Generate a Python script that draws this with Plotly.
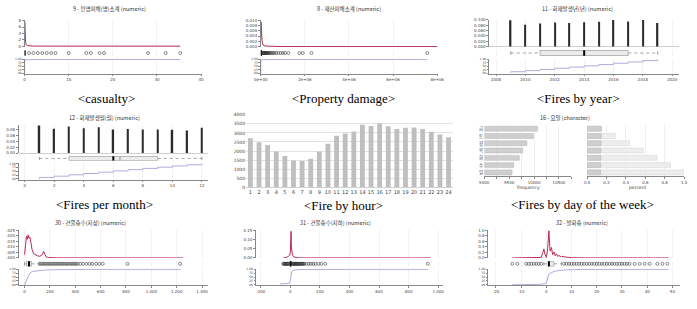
import numpy as np
import plotly.graph_objects as go

# ------------------------------------------------------------------ data
titles = ["9 - 인명피해(명)소계 (numeric)", "8 - 재산피해소계 (numeric)", "11 - 화재발생년(년) (numeric)",
          "12 - 화재발생월(월) (numeric)", "16 - 요일 (character)",
          "30 - 건물층수(지상) (numeric)", "31 - 건물층수(지하) (numeric)", "32 - 발화층 (numeric)"]
captions = ["<casualty>", "<Property damage>", "<Fires by year>",
            "<Fires per month>", "<Fire by hour>", "<Fires by day of the week>"]

# casualty
cas_dens_x = [0, 0.02, 0.1, 0.2, 0.35, 0.6, 1, 2, 5, 35.3]
cas_dens_y = [1.2, 7.7, 5.0, 1.5, 0.4, 0.15, 0.08, 0.03, 0.01, 0]
cas_box = [0, 0, 0, 0, 0]                      # lower whisker, q1, median, q3, upper whisker
cas_out = [1, 2, 3, 4, 5, 6, 7, 10, 14, 15, 17, 18, 28, 32, 35.3]
cas_ecdf_x = [0, 0, 1, 2, 5, 35.3]
cas_ecdf_y = [0, 0.965, 0.985, 0.992, 0.998, 1.0]

# property damage
prop_dens_x = [0, 10000, 30000, 60000, 100000, 200000, 500000, 1000000, 8050000]
prop_dens_y = [0.003, 0.0093, 0.006, 0.002, 0.0006, 0.0002, 0.00005, 0.00001, 0]
prop_box = [0, 0, 10000, 30000, 80000]
prop_out = [90000, 110000, 130000, 150000, 170000, 190000, 210000, 240000, 270000, 300000,
            330000, 360000, 400000, 450000, 500000, 560000, 620000, 700000, 800000, 900000,
            1000000, 1100000, 1250000, 1750000, 1900000, 2300000, 7550000]
prop_ecdf_x = [0, 0, 50000, 200000, 1000000, 7550000]
prop_ecdf_y = [0, 0.9, 0.97, 0.99, 0.998, 1.0]

# fires by year
years = [2009, 2010, 2011, 2012, 2013, 2014, 2015, 2016, 2017, 2018, 2019]
year_share = [0.099, 0.082, 0.087, 0.090, 0.088, 0.091, 0.093, 0.101, 0.094, 0.100, 0.088]
year_box = [2009, 2011, 2014, 2017, 2019]

# fires per month
months = [1, 2, 3, 4, 5, 6, 7, 8, 9, 10, 11, 12]
month_share = [0.0935, 0.0822, 0.090, 0.0845, 0.088, 0.080, 0.082, 0.080, 0.080, 0.079, 0.0766, 0.0856]
month_box = [1, 3, 6, 9, 12]
month_mean = 6.45

# fire by hour
hours = list(range(1, 25))
hour_count = [2700, 2480, 2330, 1980, 1730, 1480, 1450, 1570, 1980, 2400, 2850, 2970,
              3080, 3450, 3380, 3530, 3370, 3220, 3280, 3300, 3220, 3060, 2920, 2760]

# fires by day of the week
day_labels = ["금", "토", "월", "목", "화", "수", "일"]
day_freq = [10072, 9987, 9855, 9770, 9704, 9592, 9559]

# building floors above ground
fa_dens_x = [0, 8, 15, 22, 28, 35, 42, 50, 58, 70, 85, 100, 120, 140, 150, 158, 170, 190, 250, 1250]
fa_dens_y = [0.003, 0.012, 0.020, 0.017, 0.021, 0.018, 0.019, 0.014, 0.008, 0.004, 0.003, 0.002,
             0.0015, 0.003, 0.006, 0.004, 0.001, 0.0004, 0.0001, 0]
fa_box = [0, 15, 35, 55, 115]
fa_out = [120, 133, 146, 159, 172, 185, 198, 211, 224, 237, 250, 263, 276, 289, 302, 315, 328,
          341, 354, 367, 380, 393, 406, 419, 440, 460, 486, 512, 533, 564, 590, 617, 813, 1227]
fa_ecdf_x = [0, 10, 20, 30, 40, 60, 100, 150, 200, 300, 500, 1230]
fa_ecdf_y = [0, 0.2, 0.45, 0.62, 0.75, 0.86, 0.92, 0.95, 0.97, 0.99, 0.998, 1.0]

# building floors below ground
fb_dens_x = [-48, -30, -15, -5, 0, 3, 5, 7, 10, 14, 20, 30, 45, 65, 950]
fb_dens_y = [0, 0.002, 0.008, 0.015, 0.03, 0.07, 0.145, 0.06, 0.025, 0.015, 0.008, 0.004, 0.001, 0.0003, 0]
fb_box = [-10, -1, 2, 5, 14]
fb_out = [-48, -44, -40, -36, -32, -28, -24, -20, -16, -13, 16, 19, 22, 25, 28, 32, 36, 40, 44, 48,
          52, 56, 60, 65, 70, 75, 80, 85, 90, 95, 110, 125, 140, 155, 170, 190, 210, 236, 930]
fb_ecdf_x = [-70, -15, -5, 0, 3, 6, 10, 20, 50, 100, 930]
fb_ecdf_y = [0.06, 0.07, 0.1, 0.3, 0.6, 0.8, 0.88, 0.94, 0.98, 0.995, 1.0]

# fire floor
ff_dens_x = [-13.5, -5, -2, -1.4, -1, -0.6, 0, 0.5, 1, 1.5, 2, 2.5, 3, 3.5, 4, 4.5, 5, 5.5, 6, 7, 8, 10, 15, 48.5]
ff_dens_y = [0, 0.002, 0.02, 0.2, 0.33, 0.15, 0.02, 0.3, 1.0, 0.25, 0.38, 0.12, 0.22, 0.08, 0.15, 0.05,
             0.1, 0.04, 0.06, 0.04, 0.03, 0.01, 0.002, 0]
ff_box = [-1, 1, 1, 3, 6]
ff_out = [-13.5, -11.5, -8, -7, -6, -5, -4, -3, -2, 7, 8, 9, 10, 11, 12, 13, 14, 15, 16, 17, 18, 19,
          20, 21, 22, 23, 24, 25, 26, 27, 28, 29, 30, 31, 32, 33, 35, 37, 39, 41, 44, 46, 48]
ff_ecdf_x = [-13.5, -5, -2, -1, 0, 1, 2, 3, 5, 8, 15, 48.5]
ff_ecdf_y = [0, 0.01, 0.03, 0.08, 0.1, 0.7, 0.8, 0.86, 0.93, 0.97, 0.995, 1.0]

# ------------------------------------------------------------------ helpers
W, H = 697, 309
def fx(p): return p / W
def fy(p): return 1 - p / H
def xdom(a, b): return [fx(a), fx(b)]
def ydom(top, bottom): return [fy(bottom), fy(top)]

TICKFONT = dict(size=4, color='#444', family='DejaVu Sans')
SMALLFONT = dict(size=3, color='#444', family='DejaVu Sans')
AXBASE = dict(showgrid=False, zeroline=False, showline=True, linecolor='#888', linewidth=0.6,
              ticks='outside', ticklen=2, tickwidth=0.6, tickcolor='#888', tickfont=TICKFONT,
              fixedrange=True)
DENS_C = '#bb2a52'
ECDF_C = '#a4a4de'
SPIKE_C = '#2b2b2b'

fig = go.Figure()
layout = {}
annots = []
cnt = {'x': 0, 'y': 0}

def new_axis(k):
    cnt[k] += 1
    n = cnt[k]
    return (k if n == 1 else f'{k}{n}'), (f'{k}axis' if n == 1 else f'{k}axis{n}')

def add_text(txt, cx, cy, size, family, color='#222'):
    annots.append(dict(text=txt, x=fx(cx), y=fy(cy), xref='paper', yref='paper',
                       xanchor='center', yanchor='middle', showarrow=False,
                       font=dict(size=size, family=family, color=color)))

def line(xr, yr, x, y, color, width, dash='solid', shape='linear'):
    fig.add_trace(go.Scatter(x=x, y=y, mode='lines', xaxis=xr, yaxis=yr, hoverinfo='skip',
                             line=dict(color=color, width=width, dash=dash, shape=shape)))

def numeric_panel(p):
    xr, xn = new_axis('x')
    ydr, ydn = new_axis('y')
    ybr, ybn = new_axis('y')
    yer, yen = new_axis('y')
    r = p['rows']
    layout[xn] = dict(AXBASE, domain=xdom(*p['xdom']), range=p['xrange'], anchor=yer,
                      tickmode='array', tickvals=p['xtv'], ticktext=p['xtt'],
                      showgrid=True, gridcolor='#f2f2f2', gridwidth=0.5)
    layout[ydn] = dict(AXBASE, domain=ydom(r[0], r[1]), range=p['drange'], anchor=xr,
                       tickmode='array', tickvals=p['dtv'], ticktext=p['dtt'],
                       zeroline=p.get('zl', False), zerolinecolor='#cfcfcf', zerolinewidth=0.6)
    layout[ybn] = dict(domain=ydom(r[2], r[3]), range=[-0.5, 0.5], anchor=xr, visible=False,
                       fixedrange=True)
    layout[yen] = dict(AXBASE, domain=ydom(r[4], r[5]), range=[-0.04, 1.04], anchor=xr,
                       tickmode='array', tickvals=[0, 0.25, 0.5, 0.75, 1],
                       ticktext=['.00', '.25', '.50', '.75', '1.00'], tickfont=SMALLFONT,
                       ticklen=1.5)
    # top: density or spikes
    if 'spx' in p:
        fig.add_trace(go.Bar(x=p['spx'], y=p['spy'], width=p['spw'], marker_color=SPIKE_C,
                             marker_line_width=0, xaxis=xr, yaxis=ydr, hoverinfo='skip'))
    else:
        line(xr, ydr, p['dx'], p['dy'], DENS_C, 1)
    # box
    lo, q1, med, q3, hi = p['box']
    line(xr, ybr, [lo, q1], [0, 0], '#666', 0.6, 'dot')
    line(xr, ybr, [q3, hi], [0, 0], '#666', 0.6, 'dot')
    line(xr, ybr, [lo, lo], [-0.3, 0.3], '#666', 0.6)
    line(xr, ybr, [hi, hi], [-0.3, 0.3], '#666', 0.6)
    fig.add_trace(go.Scatter(x=[q1, q3, q3, q1, q1], y=[-0.42, -0.42, 0.42, 0.42, -0.42],
                             mode='lines', fill='toself', fillcolor='#ececec',
                             line=dict(color='#8a8a8a', width=0.6), xaxis=xr, yaxis=ybr,
                             hoverinfo='skip'))
    line(xr, ybr, [med, med], [-0.46, 0.46], '#000', 2)
    if 'mean' in p:
        line(xr, ybr, [p['mean'], p['mean']], [-0.42, 0.42], '#555', 0.6)
    if p.get('out'):
        fig.add_trace(go.Scatter(x=p['out'], y=[0] * len(p['out']), mode='markers',
                                 marker=dict(symbol='circle-open', size=3, color='#333',
                                             line=dict(width=0.55, color='#333')),
                                 xaxis=xr, yaxis=ybr, hoverinfo='skip'))
    # ecdf
    line(xr, yer, p['ex'], p['ey'], ECDF_C, 0.9, shape=p.get('eshape', 'linear'))

ROW1 = (17, 45, 48, 54, 57, 72)
ROW2 = (124, 153, 156, 161, 163, 180)
ROW3 = (232, 260, 263, 269, 271, 288)

# ------------------------------------------------------------------ panels
numeric_panel(dict(rows=ROW1, xdom=(18, 198), xrange=[0, 40], xtv=[0, 10, 20, 30, 40],
                   xtt=['0', '10', '20', '30', '40'], drange=[-0.3, 8.3],
                   dtv=[0, 2, 4, 6, 8], dtt=['0', '2', '4', '6', '8'],
                   dx=cas_dens_x, dy=cas_dens_y, box=cas_box, out=cas_out,
                   ex=cas_ecdf_x, ey=cas_ecdf_y))

numeric_panel(dict(rows=ROW1, xdom=(259, 439), xrange=[0, 8e6],
                   xtv=[0, 2e6, 4e6, 6e6, 8e6], xtt=['0e+00', '2e+06', '4e+06', '6e+06', '8e+06'],
                   drange=[-0.0002, 0.0102], dtv=[0, 0.002, 0.004, 0.006, 0.008, 0.010],
                   dtt=['0.000', '0.002', '0.004', '0.006', '0.008', '0.010'],
                   dx=prop_dens_x, dy=prop_dens_y, box=prop_box, out=prop_out,
                   ex=prop_ecdf_x, ey=prop_ecdf_y))

ycum = list(np.cumsum(year_share) / np.sum(year_share))
numeric_panel(dict(rows=ROW1, xdom=(492, 686), xrange=[2007.53, 2020.47],
                   xtv=[2008, 2010, 2012, 2014, 2016, 2018, 2020],
                   xtt=['2008', '2010', '2012', '2014', '2016', '2018', '2020'],
                   drange=[-0.0026, 0.101], dtv=[0, 0.02, 0.04, 0.06, 0.08, 0.10],
                   dtt=['0.000', '0.020', '0.040', '0.060', '0.080', '0.100'], zl=True,
                   spx=years, spy=year_share, spw=0.09, box=year_box,
                   ex=[years[0]] + years, ey=[0] + ycum, eshape='hv'))

mcum = list(np.cumsum(month_share) / np.sum(month_share))
numeric_panel(dict(rows=ROW2, xdom=(12, 205), xrange=[-0.4, 12.4],
                   xtv=[0, 2, 4, 6, 8, 10, 12], xtt=['0', '2', '4', '6', '8', '10', '12'],
                   drange=[0, 0.0967], dtv=[0, 0.02, 0.04, 0.06, 0.08],
                   dtt=['0.00', '0.02', '0.04', '0.06', '0.08'], zl=True,
                   spx=months, spy=month_share, spw=0.1, box=month_box, mean=month_mean,
                   ex=[months[0]] + months, ey=[0] + mcum, eshape='hv'))

numeric_panel(dict(rows=ROW3, xdom=(12, 205), xrange=[-46, 1446],
                   xtv=[0, 200, 400, 600, 800, 1000, 1200, 1400],
                   xtt=['0', '200', '400', '600', '800', '1,000', '1,200', '1,400'],
                   drange=[0, 0.025], dtv=[0, 0.005, 0.01, 0.015, 0.02, 0.025],
                   dtt=['.000', '.005', '.010', '.015', '.020', '.025'],
                   dx=fa_dens_x, dy=fa_dens_y, box=fa_box, out=fa_out,
                   ex=fa_ecdf_x, ey=fa_ecdf_y))

numeric_panel(dict(rows=ROW3, xdom=(254, 445), xrange=[-233, 1033],
                   xtv=[-200, 0, 200, 400, 600, 800, 1000],
                   xtt=['-200', '0', '200', '400', '600', '800', '1,000'],
                   drange=[0, 0.15], dtv=[0, 0.05, 0.10, 0.15],
                   dtt=['0.00', '0.05', '0.10', '0.15'],
                   dx=fb_dens_x, dy=fb_dens_y, box=fb_box, out=fb_out,
                   ex=fb_ecdf_x, ey=fb_ecdf_y))

numeric_panel(dict(rows=ROW3, xdom=(491, 687), xrange=[-23.1, 53.1],
                   xtv=[-20, -10, 0, 10, 20, 30, 40, 50],
                   xtt=['-20', '-10', '0', '10', '20', '30', '40', '50'],
                   drange=[0, 1.0], dtv=[0, 0.2, 0.4, 0.6, 0.8, 1.0],
                   dtt=['0.0', '0.2', '0.4', '0.6', '0.8', '1.0'],
                   dx=ff_dens_x, dy=ff_dens_y, box=ff_box, out=ff_out,
                   ex=ff_ecdf_x, ey=ff_ecdf_y))

# ---- fire by hour
xr, xn = new_axis('x')
yr, yn = new_axis('y')
layout[xn] = dict(domain=xdom(244, 455), range=[0.5, 24.5], anchor=yr, tickmode='array',
                  tickvals=hours, ticktext=[str(h) for h in hours], tickangle=0, showline=True,
                  linecolor='#d0d0d0', linewidth=0.6, showgrid=False, zeroline=False, ticks='',
                  tickfont=dict(size=5, color='#444', family='DejaVu Sans'), fixedrange=True)
layout[yn] = dict(domain=ydom(114, 188), range=[0, 4000], anchor=xr, dtick=500, tick0=0,
                  showgrid=True, gridcolor='#e2e2e2', gridwidth=0.6, showline=False,
                  zeroline=False, ticks='', tickfont=dict(size=4.5, color='#444', family='DejaVu Sans'),
                  fixedrange=True)
fig.add_trace(go.Bar(x=hours, y=hour_count, width=0.56, marker_color='#bfbfbf',
                     marker_line_width=0, xaxis=xr, yaxis=yr, hoverinfo='skip'))

# ---- fires by day of the week
day_pct = list(np.array(day_freq) / np.sum(day_freq))
day_cum = list(np.cumsum(day_pct))
xr, xn = new_axis('x')
yr, yn = new_axis('y')
ftv = [9000, 9250, 9500, 9750, 10000, 10250, 10500, 10750]
layout[xn] = dict(AXBASE, domain=xdom(487, 576), range=[9000, 10750], anchor=yr,
                  tickmode='array', tickvals=ftv,
                  ticktext=['9000', '', '9500', '', '10000', '', '10500', ''],
                  showgrid=True, gridcolor='#f0f0f0', gridwidth=0.6)
layout[yn] = dict(domain=ydom(124.5, 176.5), type='category', autorange='reversed', anchor=xr,
                  showline=False, ticks='', showgrid=False, fixedrange=True,
                  tickfont=dict(size=4.5, color='#444', family='Noto Sans CJK KR'))
fig.add_trace(go.Bar(x=day_freq, y=day_labels, orientation='h', width=0.68,
                     marker=dict(color='#cfcfcf', line=dict(color='#b5b5b5', width=0.5)),
                     xaxis=xr, yaxis=yr, hoverinfo='skip'))

xr, xn = new_axis('x')
yr, yn = new_axis('y')
layout[xn] = dict(AXBASE, domain=xdom(592, 691), range=[0, 1], anchor=yr, tickmode='array',
                  tickvals=[0, 0.2, 0.4, 0.6, 0.8, 1.0],
                  ticktext=['0.0', '0.2', '0.4', '0.6', '0.8', '1.0'],
                  showgrid=True, gridcolor='#f0f0f0', gridwidth=0.6)
layout[yn] = dict(domain=ydom(124.5, 176.5), type='category', autorange='reversed', anchor=xr,
                  showline=False, ticks='', showticklabels=False, showgrid=False, fixedrange=True)
fig.add_trace(go.Bar(x=day_cum, y=day_labels, orientation='h', width=0.68,
                     marker=dict(color='#ededed', line=dict(color='#d2d2d2', width=0.5)),
                     xaxis=xr, yaxis=yr, hoverinfo='skip'))
fig.add_trace(go.Bar(x=day_pct, y=day_labels, orientation='h', width=0.68,
                     marker=dict(color='#cfcfcf', line=dict(color='#b5b5b5', width=0.5)),
                     xaxis=xr, yaxis=yr, hoverinfo='skip'))

# ------------------------------------------------------------------ texts
KR = 'Noto Sans CJK KR'
title_pos = [(105, 6), (349, 6), (582, 6), (100, 117), (569, 117), (85, 224), (335, 224), (587, 224)]
for t, (cx, cy) in zip(titles, title_pos):
    add_text(t, cx, cy, 5.5, KR, '#333')
cap_pos = [(102, 97), (343, 97), (583, 97), (100, 205), (343, 206), (587, 205)]
for t, (cx, cy) in zip(captions, cap_pos):
    add_text(t.replace('<', '&lt;').replace('>', '&gt;'), cx, cy, 13, 'Liberation Serif', '#000')
add_text('frequency', 532, 188, 4.5, 'DejaVu Sans', '#444')
add_text('percent', 643, 188, 4.5, 'DejaVu Sans', '#444')

layout.update(dict(width=W, height=H, margin=dict(l=0, r=0, t=0, b=0), showlegend=False,
                   paper_bgcolor='white', plot_bgcolor='rgba(0,0,0,0)', barmode='overlay',
                   annotations=annots, font=dict(family='DejaVu Sans')))
fig.update_layout(layout)
fig.write_html("out.html", config=dict(displayModeBar=False))
